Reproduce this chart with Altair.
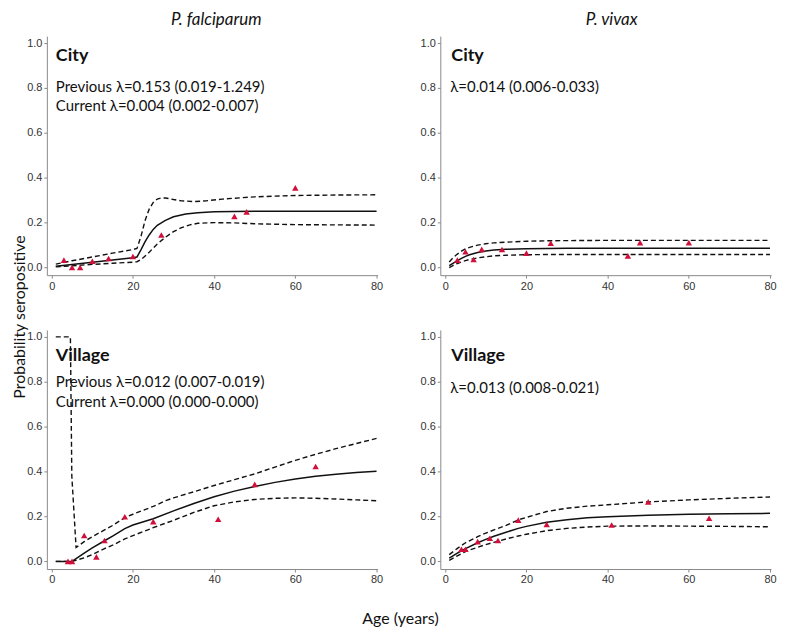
import altair as alt
import pandas as pd

# ---------------- data ----------------
# P. falciparum, City
PF_CITY_AGE = [3, 5, 7, 10, 14, 20, 27, 45, 48, 60]
PF_CITY_OBS = [0.033, 0.0, 0.0, 0.028, 0.040, 0.049, 0.145, 0.228, 0.248, 0.355]
PF_CITY_FIT_AGE = [1, 5, 10, 15, 20, 21, 22, 23, 24, 25, 26, 28, 30, 33, 36, 40, 45, 50, 60, 70, 80]
PF_CITY_FIT = [0.006, 0.014, 0.024, 0.034, 0.044, 0.047, 0.08, 0.115, 0.145, 0.17, 0.188, 0.21, 0.226,
               0.238, 0.244, 0.248, 0.25, 0.251, 0.251, 0.251, 0.251]
PF_CITY_UP_AGE = [1, 5, 10, 15, 20, 21, 22, 23, 24, 25, 26, 27, 28, 30, 32, 35, 38, 42, 50, 60, 70, 80]
PF_CITY_UP = [0.015, 0.03, 0.047, 0.064, 0.08, 0.085, 0.14, 0.21, 0.26, 0.29, 0.305, 0.31, 0.31, 0.303,
              0.297, 0.294, 0.297, 0.305, 0.315, 0.321, 0.323, 0.324]
PF_CITY_LO_AGE = [1, 5, 10, 15, 20, 21, 22, 24, 26, 28, 30, 32, 34, 36, 40, 45, 50, 60, 70, 80]
PF_CITY_LO = [0.003, 0.008, 0.014, 0.019, 0.024, 0.026, 0.035, 0.068, 0.105, 0.135, 0.16, 0.178, 0.19,
              0.197, 0.2, 0.199, 0.195, 0.191, 0.19, 0.189]

# P. vivax, City
PV_CITY_AGE = [3, 5, 7, 9, 14, 20, 26, 45, 48, 60]
PV_CITY_OBS = [0.033, 0.070, 0.036, 0.081, 0.080, 0.064, 0.108, 0.052, 0.111, 0.111]
PV_CITY_CURVE_AGE = [1, 2, 3, 4, 5, 6, 8, 10, 12, 15, 20, 25, 30, 40, 60, 80]
PV_CITY_FIT = [0.008, 0.02, 0.031, 0.041, 0.05, 0.057, 0.067, 0.074, 0.078, 0.081, 0.084, 0.085, 0.086,
               0.086, 0.086, 0.086]
PV_CITY_UP = [0.025, 0.045, 0.06, 0.073, 0.083, 0.09, 0.1, 0.106, 0.11, 0.113, 0.117, 0.119, 0.12, 0.121,
              0.121, 0.121]
PV_CITY_LO = [0.0, 0.01, 0.018, 0.025, 0.031, 0.036, 0.043, 0.048, 0.052, 0.055, 0.057, 0.058, 0.058,
              0.058, 0.058, 0.058]

# P. falciparum, Village
PF_VIL_AGE = [4, 5, 8, 11, 13, 18, 25, 41, 50, 65]
PF_VIL_OBS = [0.0, 0.0, 0.115, 0.02, 0.093, 0.199, 0.177, 0.188, 0.343, 0.423]
PF_VIL_FIT_AGE = [1, 5, 6, 8, 10, 13, 15, 18, 20, 25, 30, 35, 40, 45, 50, 55, 60, 65, 70, 75, 80]
PF_VIL_FIT = [0.0, 0.0, 0.012, 0.037, 0.06, 0.092, 0.113, 0.146, 0.162, 0.19, 0.225, 0.258, 0.288, 0.313,
              0.334, 0.352, 0.367, 0.379, 0.388, 0.396, 0.402]
PF_VIL_UP_AGE = [1, 4.6, 4.95, 6, 8, 10, 13, 15, 18, 20, 25, 28, 30, 35, 40, 45, 50, 55, 60, 65, 70, 75, 80]
PF_VIL_UP = [1.0, 1.0, 0.38, 0.062, 0.088, 0.11, 0.14, 0.16, 0.195, 0.21, 0.245, 0.27, 0.283, 0.31,
             0.338, 0.364, 0.39, 0.42, 0.45, 0.477, 0.502, 0.525, 0.548]
PF_VIL_LO_AGE = [1, 5, 6, 8, 10, 13, 15, 18, 20, 25, 28, 30, 35, 40, 45, 50, 55, 60, 65, 70, 75, 80]
PF_VIL_LO = [0.0, 0.0, 0.005, 0.016, 0.03, 0.057, 0.072, 0.1, 0.115, 0.15, 0.17, 0.183, 0.218, 0.248,
             0.265, 0.276, 0.281, 0.283, 0.281, 0.278, 0.274, 0.27]

# P. vivax, Village
PV_VIL_AGE = [4, 5, 8, 11, 13, 18, 25, 41, 50, 65]
PV_VIL_OBS = [0.054, 0.054, 0.088, 0.103, 0.093, 0.184, 0.165, 0.162, 0.265, 0.192]
PV_VIL_CURVE_AGE = [1, 3, 5, 8, 10, 12, 15, 18, 20, 25, 30, 35, 40, 50, 60, 70, 80]
PV_VIL_FIT = [0.015, 0.037, 0.057, 0.083, 0.098, 0.112, 0.13, 0.147, 0.156, 0.174, 0.186, 0.194, 0.199,
              0.206, 0.21, 0.212, 0.214]
PV_VIL_UP = [0.03, 0.058, 0.083, 0.11, 0.126, 0.14, 0.16, 0.185, 0.196, 0.222, 0.237, 0.246, 0.252,
             0.265, 0.274, 0.281, 0.287]
PV_VIL_LO = [0.005, 0.025, 0.044, 0.063, 0.075, 0.085, 0.1, 0.113, 0.121, 0.137, 0.147, 0.153, 0.157,
             0.158, 0.157, 0.156, 0.154]

COL_TITLES = ["P. falciparum", "P. vivax"]
ROW_LABELS = ["City", "Village"]
PF_CITY_TEXT = ["Previous λ=0.153 (0.019-1.249)", "Current λ=0.004 (0.002-0.007)"]
PV_CITY_TEXT = ["λ=0.014 (0.006-0.033)"]
PF_VIL_TEXT = ["Previous λ=0.012 (0.007-0.019)", "Current λ=0.000 (0.000-0.000)"]
PV_VIL_TEXT = ["λ=0.013 (0.008-0.021)"]
Y_TITLE = "Probability seropositive"
X_TITLE = "Age (years)"
X_TICKS = [0, 20, 40, 60, 80]
Y_TICKS = [0.0, 0.2, 0.4, 0.6, 0.8, 1.0]

# ---------------- styling ----------------
W, H = 332, 240
X_DOM = [-1.2, 80.25]
Y_DOM = [-0.034, 1.031]
RED = "#d0103a"
INK = "#111111"
FONT = "Lato"
AX_COL = "#8a8a8a"


def txt(s, x, y, size=15, weight="normal", style="normal", align="left", baseline="alphabetic", angle=0):
    props = dict(align=align, baseline=baseline, font=FONT, fontSize=size,
                 fontWeight=weight, fontStyle=style, color=INK)
    if angle:
        props["angle"] = angle
    return alt.Chart(pd.DataFrame({"t": [s]})).mark_text(**props).encode(
        text="t:N", x=alt.value(x), y=alt.value(y))


def panel(obs_age, obs, fit_age, fit, up_age, up, lo_age, lo, extra):
    xs = alt.Scale(domain=X_DOM, nice=False, zero=False)
    ys = alt.Scale(domain=Y_DOM, nice=False, zero=False)
    xax = alt.Axis(values=X_TICKS, format="d", title=None, grid=False, tickSize=3,
                   labelPadding=2, domainColor=AX_COL, tickColor=AX_COL, labelColor="#333333",
                   labelFont="Liberation Sans", labelFontSize=11)
    yax = alt.Axis(values=Y_TICKS, format=".1f", title=None, grid=False, tickSize=3,
                   labelPadding=2, domainColor=AX_COL, tickColor=AX_COL, labelColor="#333333",
                   labelFont="Liberation Sans", labelFontSize=11)
    X = alt.X("age:Q", scale=xs, axis=xax)
    Y = alt.Y("p:Q", scale=ys, axis=yax)
    band = pd.concat([
        pd.DataFrame({"age": up_age, "p": up, "b": "upper"}),
        pd.DataFrame({"age": lo_age, "p": lo, "b": "lower"}),
    ])
    dashed = alt.Chart(band).mark_line(color=INK, strokeWidth=1.4, strokeDash=[5, 3]).encode(
        x=X, y=Y, detail="b:N")
    solid = alt.Chart(pd.DataFrame({"age": fit_age, "p": fit})).mark_line(
        color=INK, strokeWidth=1.5).encode(x=X, y=Y)
    pts = alt.Chart(pd.DataFrame({"age": obs_age, "p": obs})).mark_point(
        shape="triangle-up", filled=True, color=RED, size=42, opacity=1).encode(x=X, y=Y)
    return alt.layer(dashed, solid, pts, *extra).properties(width=W, height=H)


tl = panel(PF_CITY_AGE, PF_CITY_OBS, PF_CITY_FIT_AGE, PF_CITY_FIT, PF_CITY_UP_AGE, PF_CITY_UP,
           PF_CITY_LO_AGE, PF_CITY_LO,
           [txt(ROW_LABELS[0], 9, 24.5, 18, "bold"),
            txt(PF_CITY_TEXT[0], 9, 55.7),
            txt(PF_CITY_TEXT[1], 9, 74.7),
            txt(COL_TITLES[0], W / 2 + 4, -11, 17, style="italic", align="center"),
            txt(Y_TITLE, -27, 282, 16, align="center", baseline="middle", angle=270)])

tr = panel(PV_CITY_AGE, PV_CITY_OBS, PV_CITY_CURVE_AGE, PV_CITY_FIT, PV_CITY_CURVE_AGE, PV_CITY_UP,
           PV_CITY_CURVE_AGE, PV_CITY_LO,
           [txt(ROW_LABELS[0], 11, 24.5, 18, "bold"),
            txt(PV_CITY_TEXT[0], 10, 55.7),
            txt(COL_TITLES[1], W / 2 + 6, -11, 17, style="italic", align="center")])

bl = panel(PF_VIL_AGE, PF_VIL_OBS, PF_VIL_FIT_AGE, PF_VIL_FIT, PF_VIL_UP_AGE, PF_VIL_UP,
           PF_VIL_LO_AGE, PF_VIL_LO,
           [txt(ROW_LABELS[1], 9, 30.7, 18, "bold"),
            txt(PF_VIL_TEXT[0], 9, 57.3),
            txt(PF_VIL_TEXT[1], 9, 77.3),
            txt(X_TITLE, 355, 290, 16, align="center", baseline="middle")])

br = panel(PV_VIL_AGE, PV_VIL_OBS, PV_VIL_CURVE_AGE, PV_VIL_FIT, PV_VIL_CURVE_AGE, PV_VIL_UP,
           PV_VIL_CURVE_AGE, PV_VIL_LO,
           [txt(ROW_LABELS[1], 11, 30.7, 18, "bold"),
            txt(PV_VIL_TEXT[0], 10, 63)])

chart = alt.concat(tl, tr, bl, br, columns=2, spacing={"row": 55, "column": 63}, bounds="flush",
                   padding={"left": 4, "top": 2, "right": 0, "bottom": 0}).configure_view(stroke=None)

chart.save("out.html", embed_options={"renderer": "svg", "actions": False})
